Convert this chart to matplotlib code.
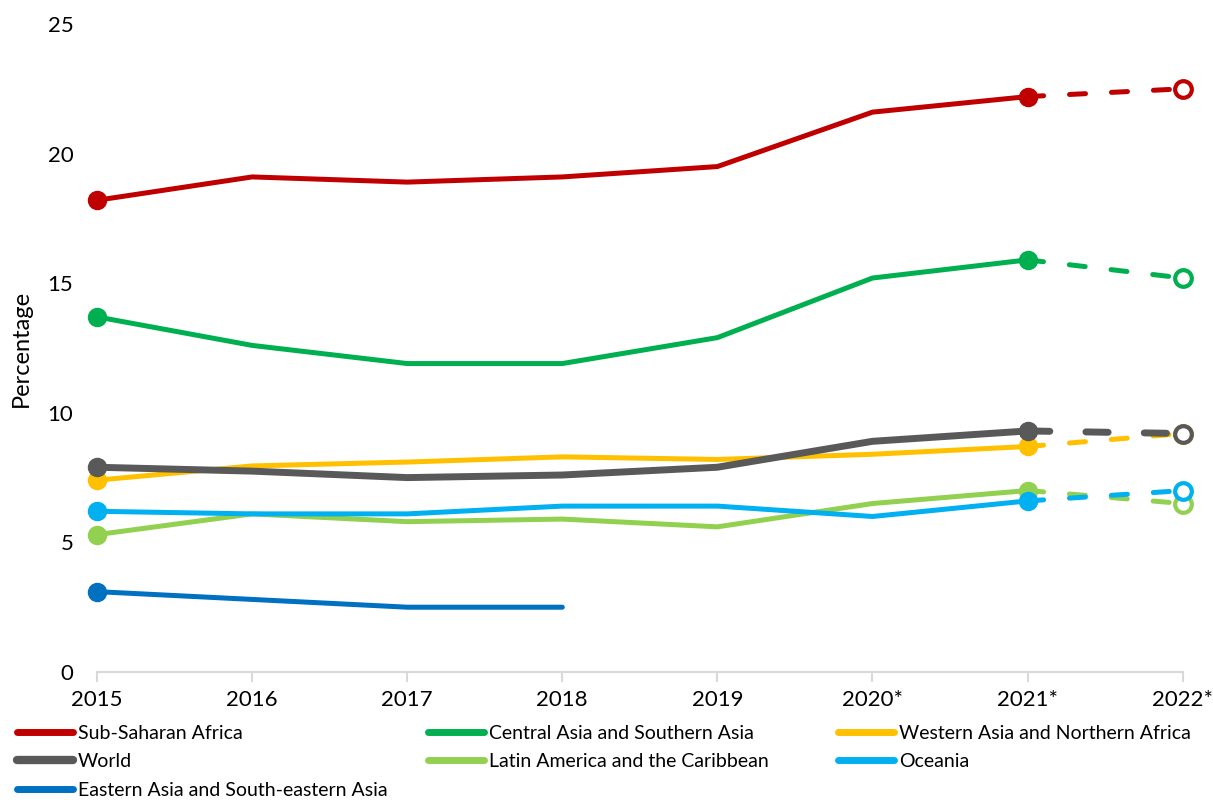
import matplotlib.pyplot as plt
from matplotlib.lines import Line2D

plt.rcParams['font.family'] = ['Lato', 'DejaVu Sans']

years = ["2015", "2016", "2017", "2018", "2019", "2020*", "2021*", "2022*"]

sub_saharan = [18.2, 19.1, 18.9, 19.1, 19.5, 21.6, 22.2, 22.5]
central_south_asia = [13.7, 12.6, 11.9, 11.9, 12.9, 15.2, 15.9, 15.2]
western_asia_n_africa = [7.4, 7.95, 8.1, 8.3, 8.2, 8.4, 8.7, 9.2]
world = [7.9, 7.75, 7.5, 7.6, 7.9, 8.9, 9.3, 9.2]
latin_america = [5.3, 6.1, 5.8, 5.9, 5.6, 6.5, 7.0, 6.5]
oceania = [6.2, 6.1, 6.1, 6.4, 6.4, 6.0, 6.6, 7.0]
east_se_asia = [3.1, 2.8, 2.5, 2.5]

series = [
    ("Sub-Saharan Africa", sub_saharan, "#C00000", 3.6),
    ("Central Asia and Southern Asia", central_south_asia, "#00B050", 3.6),
    ("Western Asia and Northern Africa", western_asia_n_africa, "#FFC000", 3.6),
    ("World", world, "#595959", 5.0),
    ("Latin America and the Caribbean", latin_america, "#92D050", 3.6),
    ("Oceania", oceania, "#00B0F0", 3.6),
    ("Eastern Asia and South-eastern Asia", east_se_asia, "#0070C0", 3.6),
]

fig = plt.figure(figsize=(12.13, 8), dpi=100)
ax = fig.add_axes([0.08, 0.16, 0.895, 0.81])
x = list(range(len(years)))

handles = {}
for name, vals, color, lw in series:
    n = len(vals)
    if n == len(years):
        # solid up to 2021, dashed projection to 2022
        ax.plot(x[:7], vals[:7], color=color, lw=lw, solid_capstyle="round",
                solid_joinstyle="round", clip_on=False)
        ax.plot(x[6:], vals[6:], color=color, lw=lw, linestyle=(0, (3.2, 5.2)),
                dash_capstyle="round", clip_on=False)
        ax.plot([x[0], x[6]], [vals[0], vals[6]], "o", color=color, ms=13,
                ls="none", clip_on=False)
        ax.plot(x[7], vals[7], "o", mfc="white", mec=color, mew=3, ms=12,
                clip_on=False)
    else:
        ax.plot(x[:n], vals, color=color, lw=lw, solid_capstyle="round",
                clip_on=False)
        ax.plot(x[0], vals[0], "o", color=color, ms=13, clip_on=False)
    handles[name] = Line2D([], [], color=color, lw=6 if name == "World" else 5,
                           solid_capstyle="round")

ax.set_xlim(0, len(years) - 1)
ax.set_ylim(0, 25)
ax.set_yticks([0, 5, 10, 15, 20, 25])
ax.set_xticks(x)
ax.set_xticklabels(years)
ax.tick_params(axis="y", length=0, pad=17, labelsize=16)
ax.tick_params(axis="x", length=7, width=1.5, color="#D9D9D9", pad=6, labelsize=16)
for side in ["top", "right", "left"]:
    ax.spines[side].set_visible(False)
ax.spines["bottom"].set_color("#D9D9D9")
ax.spines["bottom"].set_linewidth(1.5)
ax.set_ylabel("Percentage", fontsize=17)
ax.yaxis.set_label_coords(-0.06, 0.5)

columns = [
    (17, ["Sub-Saharan Africa", "World", "Eastern Asia and South-eastern Asia"]),
    (428, ["Central Asia and Southern Asia", "Latin America and the Caribbean"]),
    (838, ["Western Asia and Northern Africa", "Oceania"]),
]
for xpix, names in columns:
    fig.legend([handles[n] for n in names], names, loc="upper left",
               bbox_to_anchor=(xpix / 1213, 1 - 725 / 800), frameon=False,
               fontsize=14, handlelength=2.9, handletextpad=0.22,
               labelspacing=0.58, borderpad=0, borderaxespad=0)

fig.savefig("out.png", dpi=100)
